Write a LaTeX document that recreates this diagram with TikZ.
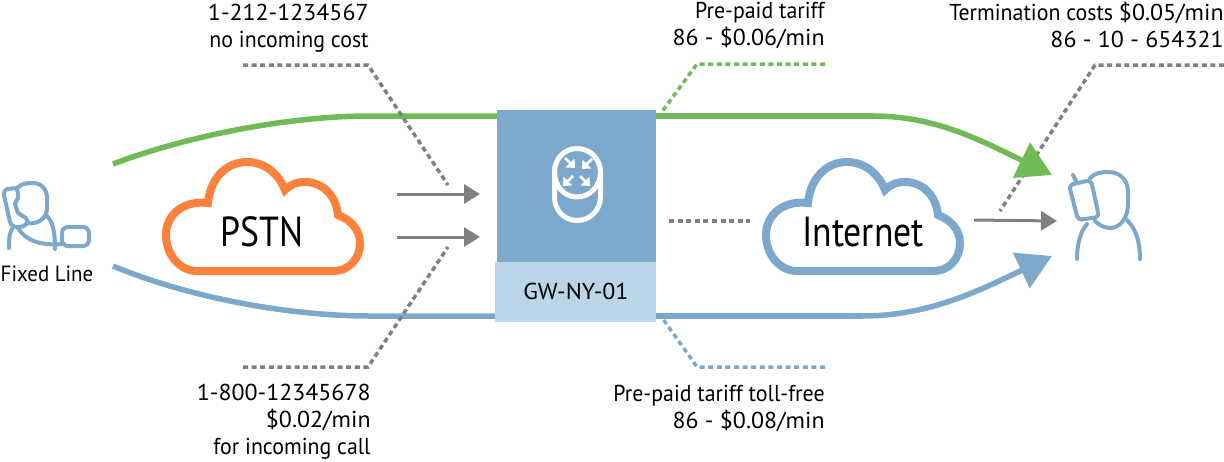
\documentclass[tikz,border=0pt]{standalone}
\usepackage{fontspec}
\setmainfont[FakeStretch=.95]{PT Sans}
\newfontfamily\digitfont[FakeStretch=1.04]{PT Sans}
\newfontfamily\bigfont[FakeStretch=.85]{PT Sans}
\usetikzlibrary{arrows.meta}
\definecolor{gwblue}{HTML}{7CA8CC}
\definecolor{gwlight}{HTML}{BAD4E8}
\definecolor{tariffgreen}{HTML}{70BB55}
\definecolor{pstnorange}{HTML}{FB813D}
\definecolor{notegray}{HTML}{808080}
\newcommand{\cloudline}[2]{\draw[line width=4pt,#2,shift={(#1,0)}] (197,271) -- (333,271) .. controls (350,271) and (360,258) .. (360,243) .. controls (360,230) and (351,220) .. (338,215) .. controls (336,195) and (322,182) .. (305,182) .. controls (297,182) and (291,184) .. (285,190) .. controls (278,172) and (263,162) .. (247,162) .. controls (225,162) and (210,180) .. (208,203) .. controls (183,200) and (166,215) .. (166,235) .. controls (166,255) and (180,271) .. (197,271) -- cycle;}
\newcommand{\dg}[1]{{\digitfont #1}}
\tikzset{
  note/.style={inner sep=0pt,align=right,font=\fontsize{11.5}{13.5}\selectfont},
  bigname/.style={inner sep=0pt,font=\fontsize{21}{24}\selectfont\bigfont},
  callout/.style={line width=1.75pt,dash pattern=on 2.5pt off 1.8pt},
  flow/.style={line width=2.75pt,-{Triangle[length=17pt,width=19pt]}},
  plainflow/.style={line width=2.75pt},
  signal/.style={line width=1.5pt,notegray,-{Triangle[length=8pt,width=9.5pt]}},
  person/.style={line width=2pt,gwblue,line cap=round,line join=round},
  routerline/.style={line width=2.5pt,white},
  routerarrow/.style={line width=1.4pt,white,-{Triangle[length=3.5pt,width=6pt]}}
}
\begin{document}
\begin{tikzpicture}[x=0.5pt,y=-0.5pt]
\useasboundingbox (0,0) rectangle (1224,461);

% clouds
\cloudline{0}{pstnorange}
\cloudline{600}{gwblue}
\node[bigname] (pstn) at (262,232) {PSTN};
\node[bigname] (internet) at (863,232) {Internet};

% free ends
\coordinate (greenstart) at (113,164);
\coordinate (greenleft) at (370,116);
\coordinate (greengwl) at (497,116);
\coordinate (greengwr) at (656,116);
\coordinate (greenright) at (873,116);
\coordinate (greenend) at (1052,175);
\coordinate (bluestart) at (113,266);
\coordinate (blueleft) at (370,316);
\coordinate (bluegwl) at (497,316);
\coordinate (bluegwr) at (656,316);
\coordinate (blueright) at (862,316);
\coordinate (blueend) at (1052,256);

% termination note, under the green arrow
\coordinate (termend) at (1224,65);
\coordinate (termbend) at (1095,65);
\coordinate (termtip) at (1000,211);
\draw[callout,notegray] (termend) -- (termbend) -- (termtip);

% green and blue routes
\draw[plainflow,tariffgreen] (greengwr) -- (greenright);
\draw[plainflow,tariffgreen] (greenstart) .. controls (190,135) and (290,116) .. (greenleft) -- (greengwl);
\draw[flow,tariffgreen] (greenright) .. controls (935,116) and (980,140) .. (greenend);
\draw[plainflow,gwblue] (bluegwr) -- (blueright);
\draw[plainflow,gwblue] (bluestart) .. controls (190,298) and (290,316) .. (blueleft) -- (bluegwl);
\draw[flow,gwblue] (blueright) .. controls (930,316) and (980,290) .. (blueend);

% gateway
\node[fill=gwblue,minimum width=79.5pt,minimum height=76pt,inner sep=0pt,anchor=north west] (gw) at (497,110) {};
\node[fill=gwlight,minimum width=80.5pt,minimum height=30pt,inner sep=0pt,anchor=north west,font=\fontsize{11.5}{13.5}\selectfont] (gwname) at (495,262) {\raisebox{1pt}{\dg{GW-NY-01}}};

% router icon
\draw[routerline] (554.5,172) .. controls (554.5,159) and (564,148.5) .. (577,148.5) .. controls (590,148.5) and (600.5,159) .. (600.5,172) .. controls (600.5,186) and (590,197) .. (577,197) .. controls (564,197) and (554.5,186) .. (554.5,172) -- cycle;
\draw[routerline] (554.5,172) -- (554.5,197) .. controls (554.5,210) and (564,220.5) .. (577,220.5) .. controls (590,220.5) and (600.5,210) .. (600.5,197) -- (600.5,172);
\draw[routerarrow] (565,158) -- (575,168);
\draw[routerarrow] (592,159) -- (582,169);
\draw[routerarrow] (573,176) -- (563,186);
\draw[routerarrow] (580,176) -- (590,186);

% signals
\coordinate (sigatail) at (397,194);
\coordinate (sigahead) at (480,194);
\coordinate (sigbtail) at (397,237);
\coordinate (sigbhead) at (480,237);
\coordinate (sigctail) at (974,220);
\coordinate (sigchead) at (1057,221);
\coordinate (linkl) at (669,221);
\coordinate (linkr) at (750,221);
\draw[signal] (sigatail) -- (sigahead);
\draw[signal] (sigbtail) -- (sigbhead);
\draw[signal] (sigctail) -- (sigchead);
\draw[callout,notegray] (linkl) -- (linkr);

% notes
\node[note,anchor=north east] (nocost) at (369,4) {\dg{1-212-1234567}\\no incoming cost};
\node[note,anchor=north east] (prepaid) at (825,2) {Pre-paid tariff\\\dg{86 - \$0.06/min}};
\node[note,anchor=north east] (termcost) at (1224,2) {Termination costs \dg{\$0.05/min}\\\dg{86 - 10 - 654321}};
\node[note,anchor=north east] (tollfree) at (371,384) {\dg{1-800-12345678}\\\dg{\$0.02/min}\\for incoming call};
\node[note,anchor=north east] (prepaidfree) at (825,385) {Pre-paid tariff toll-free\\\dg{86 - \$0.08/min}};
\node[note,anchor=north,font=\fontsize{11}{13}\selectfont] (fixed) at (47,266) {Fixed Line};

% note lines
\coordinate (nocosta) at (243,65);
\coordinate (nocostb) at (368,65);
\coordinate (nocostc) at (448,185);
\coordinate (tollfreea) at (243,367);
\coordinate (tollfreeb) at (368,367);
\coordinate (tollfreec) at (448,247);
\coordinate (prepaida) at (825,64);
\coordinate (prepaidb) at (697,64);
\coordinate (prepaidc) at (661,113);
\coordinate (freea) at (825,367);
\coordinate (freeb) at (697,367);
\coordinate (freec) at (663,319);
\draw[callout,notegray] (nocosta) -- (nocostb) -- (nocostc);
\draw[callout,notegray] (tollfreea) -- (tollfreeb) -- (tollfreec);
\draw[callout,tariffgreen] (prepaida) -- (prepaidb) -- (prepaidc);
\draw[callout,gwblue] (freea) -- (freeb) -- (freec);

% fixed line user
\draw[person] (17,188) .. controls (22,183) and (28,183) .. (33,183) .. controls (42,183) and (47,190) .. (47,198) -- (47,208) .. controls (47,218) and (38,225) .. (27,223);
\draw[person] (17,188) -- (7,189) .. controls (4,190) and (4,192) .. (4,195) -- (10,222) .. controls (11,226) and (16,228) .. (20,227) .. controls (25,226) and (28,224) .. (27,220) .. controls (26,217) and (22,216) .. (18,213) -- (15,204) .. controls (16,200) and (19,199) .. (18,195) -- (17,188);
\draw[person] (12,229) .. controls (9,234) and (9,240) .. (9,248);
\draw[person] (47,216) .. controls (53,222) and (55,232) .. (55,249);
\draw[person] (18,228) .. controls (25,240) and (40,246) .. (62,244);
\draw[person,rounded corners=3pt] (62,227) rectangle (89,246);

% mobile user
\draw[person] (1090,178) .. controls (1095,173) and (1101,172) .. (1108,172) .. controls (1120,172) and (1128,180) .. (1128,192) -- (1128,204) .. controls (1128,218) and (1120,228) .. (1110,228) .. controls (1104,228) and (1099,225) .. (1095,221);
\draw[person,rounded corners=2pt] (1069,185) -- (1091,180) -- (1099,217) -- (1078,220) -- cycle;
\draw[person] (1076,181) -- (1073,175);
\draw[person] (1087,224) .. controls (1080,232) and (1077,245) .. (1077,259);
\draw[person] (1127,220) .. controls (1135,228) and (1140,240) .. (1140,259);
\end{tikzpicture}
\end{document}
